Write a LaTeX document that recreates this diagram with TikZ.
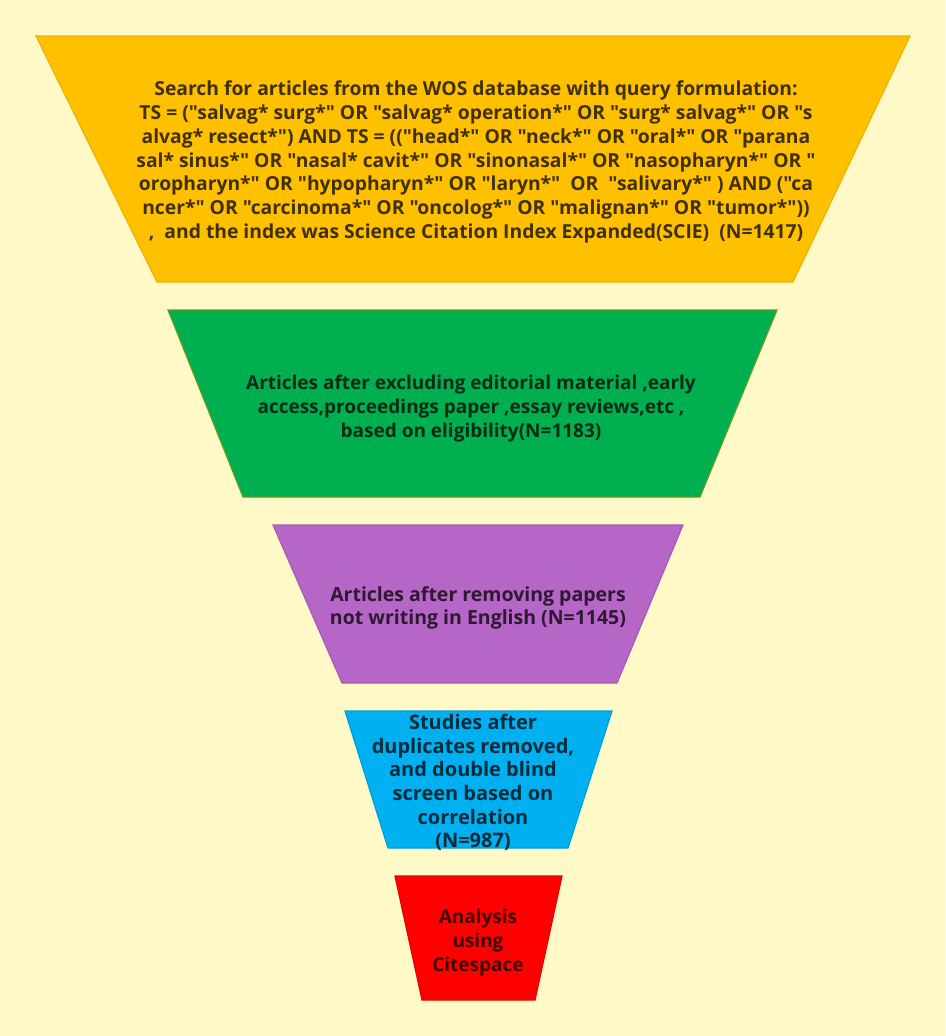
\documentclass[tikz,border=0pt]{standalone}
\usepackage{fontspec}
\newfontfamily\lblfont{Open Sans}
\definecolor{bg}{HTML}{FFF9C8}
\definecolor{cyel}{HTML}{FFC000}
\definecolor{cyelB}{HTML}{EDB200}
\definecolor{cgrn}{HTML}{00B050}
\definecolor{cgrnB}{HTML}{5E9E1E}
\definecolor{cpur}{HTML}{B666C6}
\definecolor{cblu}{HTML}{00B0F0}
\definecolor{cred}{HTML}{FF0000}
\tikzset{
  stage/.style={line width=1.2pt, line join=miter},
  label/.style={align=center, inner sep=0pt, text=black, text opacity=0.75},
}
\begin{document}
\begin{tikzpicture}[x=1pt,y=-1pt]
\fill[bg] (0,0) rectangle (945,1036);
\useasboundingbox (0,0) rectangle (945,1036);
% trapezoids
\draw[stage, fill=cyel, draw=cyelB] (36,36) -- (910,36) -- (793,282) -- (157,282) -- cycle;
\draw[stage, fill=cgrn, draw=cgrnB] (168,310) -- (777,310) -- (700,497) -- (243,497) -- cycle;
\draw[stage, fill=cpur, draw=cpur!90!black] (273,525) -- (683,525) -- (617,683) -- (342,683) -- cycle;
\draw[stage, fill=cblu, draw=cblu!90!black] (345,711) -- (612,711) -- (568,848) -- (388,848) -- cycle;
\draw[stage, fill=cred, draw=cred!90!black] (395,876) -- (562,876) -- (535,1000) -- (422,1000) -- cycle;
% texts
\node[label, font=\lblfont\bfseries\fontsize{19.3}{23.8}\selectfont] (t1) at (476,162)
 {Search for articles from the WOS database with query formulation:\\
  TS = ("salvag* surg*" OR "salvag* operation*" OR "surg* salvag*" OR "s\\
  alvag* resect*") AND TS = (("head*" OR "neck*" OR "oral*" OR "parana\\
  sal* sinus*" OR "nasal* cavit*" OR "sinonasal*" OR "nasopharyn*" OR "\\
  oropharyn*" OR "hypopharyn*" OR "laryn*"~~OR~~"salivary*" ) AND ("ca\\
  ncer*" OR "carcinoma*" OR "oncolog*" OR "malignan*" OR "tumor*"))\\
  ,~~and the index was Science Citation Index Expanded(SCIE)~~(N=1417)};
\node[label, font=\lblfont\bfseries\fontsize{19}{24}\selectfont] (t2) at (471,409)
 {Articles after excluding editorial material ,early\\
  access,proceedings paper ,essay reviews,etc ,\\
  based on eligibility(N=1183)};
\node[label, font=\lblfont\bfseries\fontsize{19.5}{23}\selectfont] (t3) at (478,608)
 {Articles after removing papers\\ not writing in English (N=1145)};
\node[label, font=\lblfont\bfseries\fontsize{20}{23.7}\selectfont] (t4) at (473,782.5)
 {Studies after\\ duplicates removed,\\ and double blind\\ screen based on\\ correlation\\ (N=987)};
\node[label, font=\lblfont\bfseries\fontsize{19}{24}\selectfont] (t5) at (478,943)
 {Analysis\\ using\\ Citespace};
\end{tikzpicture}
\end{document}
